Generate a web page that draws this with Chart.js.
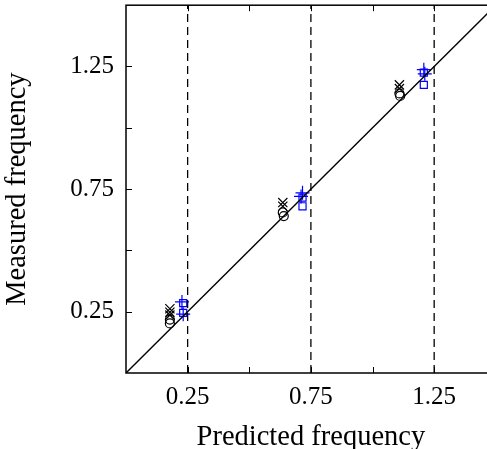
<!DOCTYPE html>
<html>
<head>
<meta charset="utf-8">
<script src="https://cdn.jsdelivr.net/npm/chart.js@4/dist/chart.umd.min.js"></script>
<style>
  html, body { margin: 0; padding: 0; background: #fff; overflow: hidden; }
  #wrap { width: 504px; height: 452px; margin-top: -3px; }
</style>
</head>
<body>
<div id="wrap"><canvas id="freqChart" width="504" height="452"></canvas></div>
<script>
// axis ticks
const tickValues = [0.25, 0.5, 0.75, 1.0, 1.25];
const labeledTicks = [0.25, 0.75, 1.25];
const axisMin = 0;
const axisMax = 1.5;

// black x markers
const xMarkX = [0.178, 0.178, 0.178, 0.636, 0.636, 1.109, 1.109];
const xMarkY = [0.262, 0.248, 0.236, 0.695, 0.680, 1.175, 1.160];
// black circles
const circX = [0.178, 0.178, 0.636, 0.640, 1.109, 1.112];
const circY = [0.218, 0.202, 0.655, 0.640, 1.140, 1.130];
// blue plus markers
const plusX = [0.227, 0.232, 0.716, 0.710, 1.208, 1.212];
const plusY = [0.290, 0.240, 0.735, 0.720, 1.237, 1.220];
// blue squares
const sqX = [0.232, 0.232, 0.716, 0.716, 1.208, 1.208];
const sqY = [0.285, 0.245, 0.715, 0.680, 1.225, 1.175];

// reference lines
const diagX = [0, 1.5];
const vLines = [0.25, 0.75, 1.25];

const pts = (xs, ys) => xs.map((x, i) => ({ x: x, y: ys[i] }));

const serif = "'Liberation Serif', 'DejaVu Serif', serif";

const vLineSets = vLines.map(v => ({
    type: 'line',
    data: [{ x: v, y: axisMin }, { x: v, y: axisMax }],
    borderColor: '#000',
    borderWidth: 1.3,
    borderDash: [8, 5],
    pointRadius: 0,
    fill: false
}));

const markerSet = (data, style, color, r) => ({
    type: 'scatter',
    data: data,
    pointStyle: style,
    pointRadius: r,
    pointBorderColor: color,
    pointBackgroundColor: 'rgba(0,0,0,0)',
    pointBorderWidth: 1.2
});

// box + inward ticks
const frame = {
    id: 'frame',
    afterDatasetsDraw(chart) {
        const { ctx, chartArea: a, scales: { x, y } } = chart;
        ctx.save();
        ctx.strokeStyle = '#000';
        ctx.lineWidth = 1.5;
        ctx.strokeRect(a.left, a.top, a.right - a.left, a.bottom - a.top);
        ctx.lineWidth = 1;
        const len = 6;
        tickValues.forEach(v => {
            const px = Math.round(x.getPixelForValue(v)) + 0.5;
            ctx.beginPath();
            ctx.moveTo(px, a.bottom); ctx.lineTo(px, a.bottom - len);
            ctx.moveTo(px, a.top); ctx.lineTo(px, a.top + len);
            const py = Math.round(y.getPixelForValue(v)) + 0.5;
            ctx.moveTo(a.left, py); ctx.lineTo(a.left + len, py);
            ctx.moveTo(a.right, py); ctx.lineTo(a.right - len, py);
            ctx.stroke();
        });
        ctx.restore();
    }
};

const noPad = s => { s.paddingLeft = 0; s.paddingRight = 0; s.paddingTop = 0; s.paddingBottom = 0; };

const axisCommon = (title, pad) => ({
    type: 'linear',
    min: axisMin,
    max: axisMax,
    grid: { display: false, drawTicks: false },
    border: { display: false },
    afterBuildTicks: scale => { scale.ticks = tickValues.map(v => ({ value: v })); },
    ticks: {
        color: '#000',
        padding: pad,
        font: { family: serif, size: 25 },
        callback: v => labeledTicks.includes(v) ? String(v) : ''
    },
    title: {
        display: true,
        text: title,
        color: '#000',
        font: { family: serif, size: 28.5, lineHeight: 1 },
        padding: 0
    }
});

const xAxis = axisCommon('Predicted frequency', 9);
xAxis.afterFit = s => { noPad(s); s.height = 76; };
xAxis.title.padding = { top: 0, bottom: -3 };
const yAxis = axisCommon('Measured frequency', 12);
yAxis.afterFit = s => { noPad(s); s.width = 126; };
yAxis.title.padding = { top: 3, bottom: 0 };

new Chart(document.getElementById('freqChart'), {
    type: 'scatter',
    data: {
        datasets: [
            {
                type: 'line',
                data: pts(diagX, diagX),
                borderColor: '#000',
                borderWidth: 1.4,
                pointRadius: 0,
                fill: false
            },
            ...vLineSets,
            markerSet(pts(xMarkX, xMarkY), 'crossRot', '#000', 6.5),
            markerSet(pts(circX, circY), 'circle', '#000', 4.5),
            markerSet(pts(plusX, plusY), 'cross', '#0000ff', 7),
            markerSet(pts(sqX, sqY), 'rect', '#0000ff', 5)
        ]
    },
    options: {
        responsive: false,
        animation: false,
        layout: { padding: { top: 0, right: 4, left: 0, bottom: 0 } },
        plugins: { legend: { display: false }, tooltip: { enabled: false } },
        scales: { x: xAxis, y: yAxis }
    },
    plugins: [frame]
});
</script>
</body>
</html>
